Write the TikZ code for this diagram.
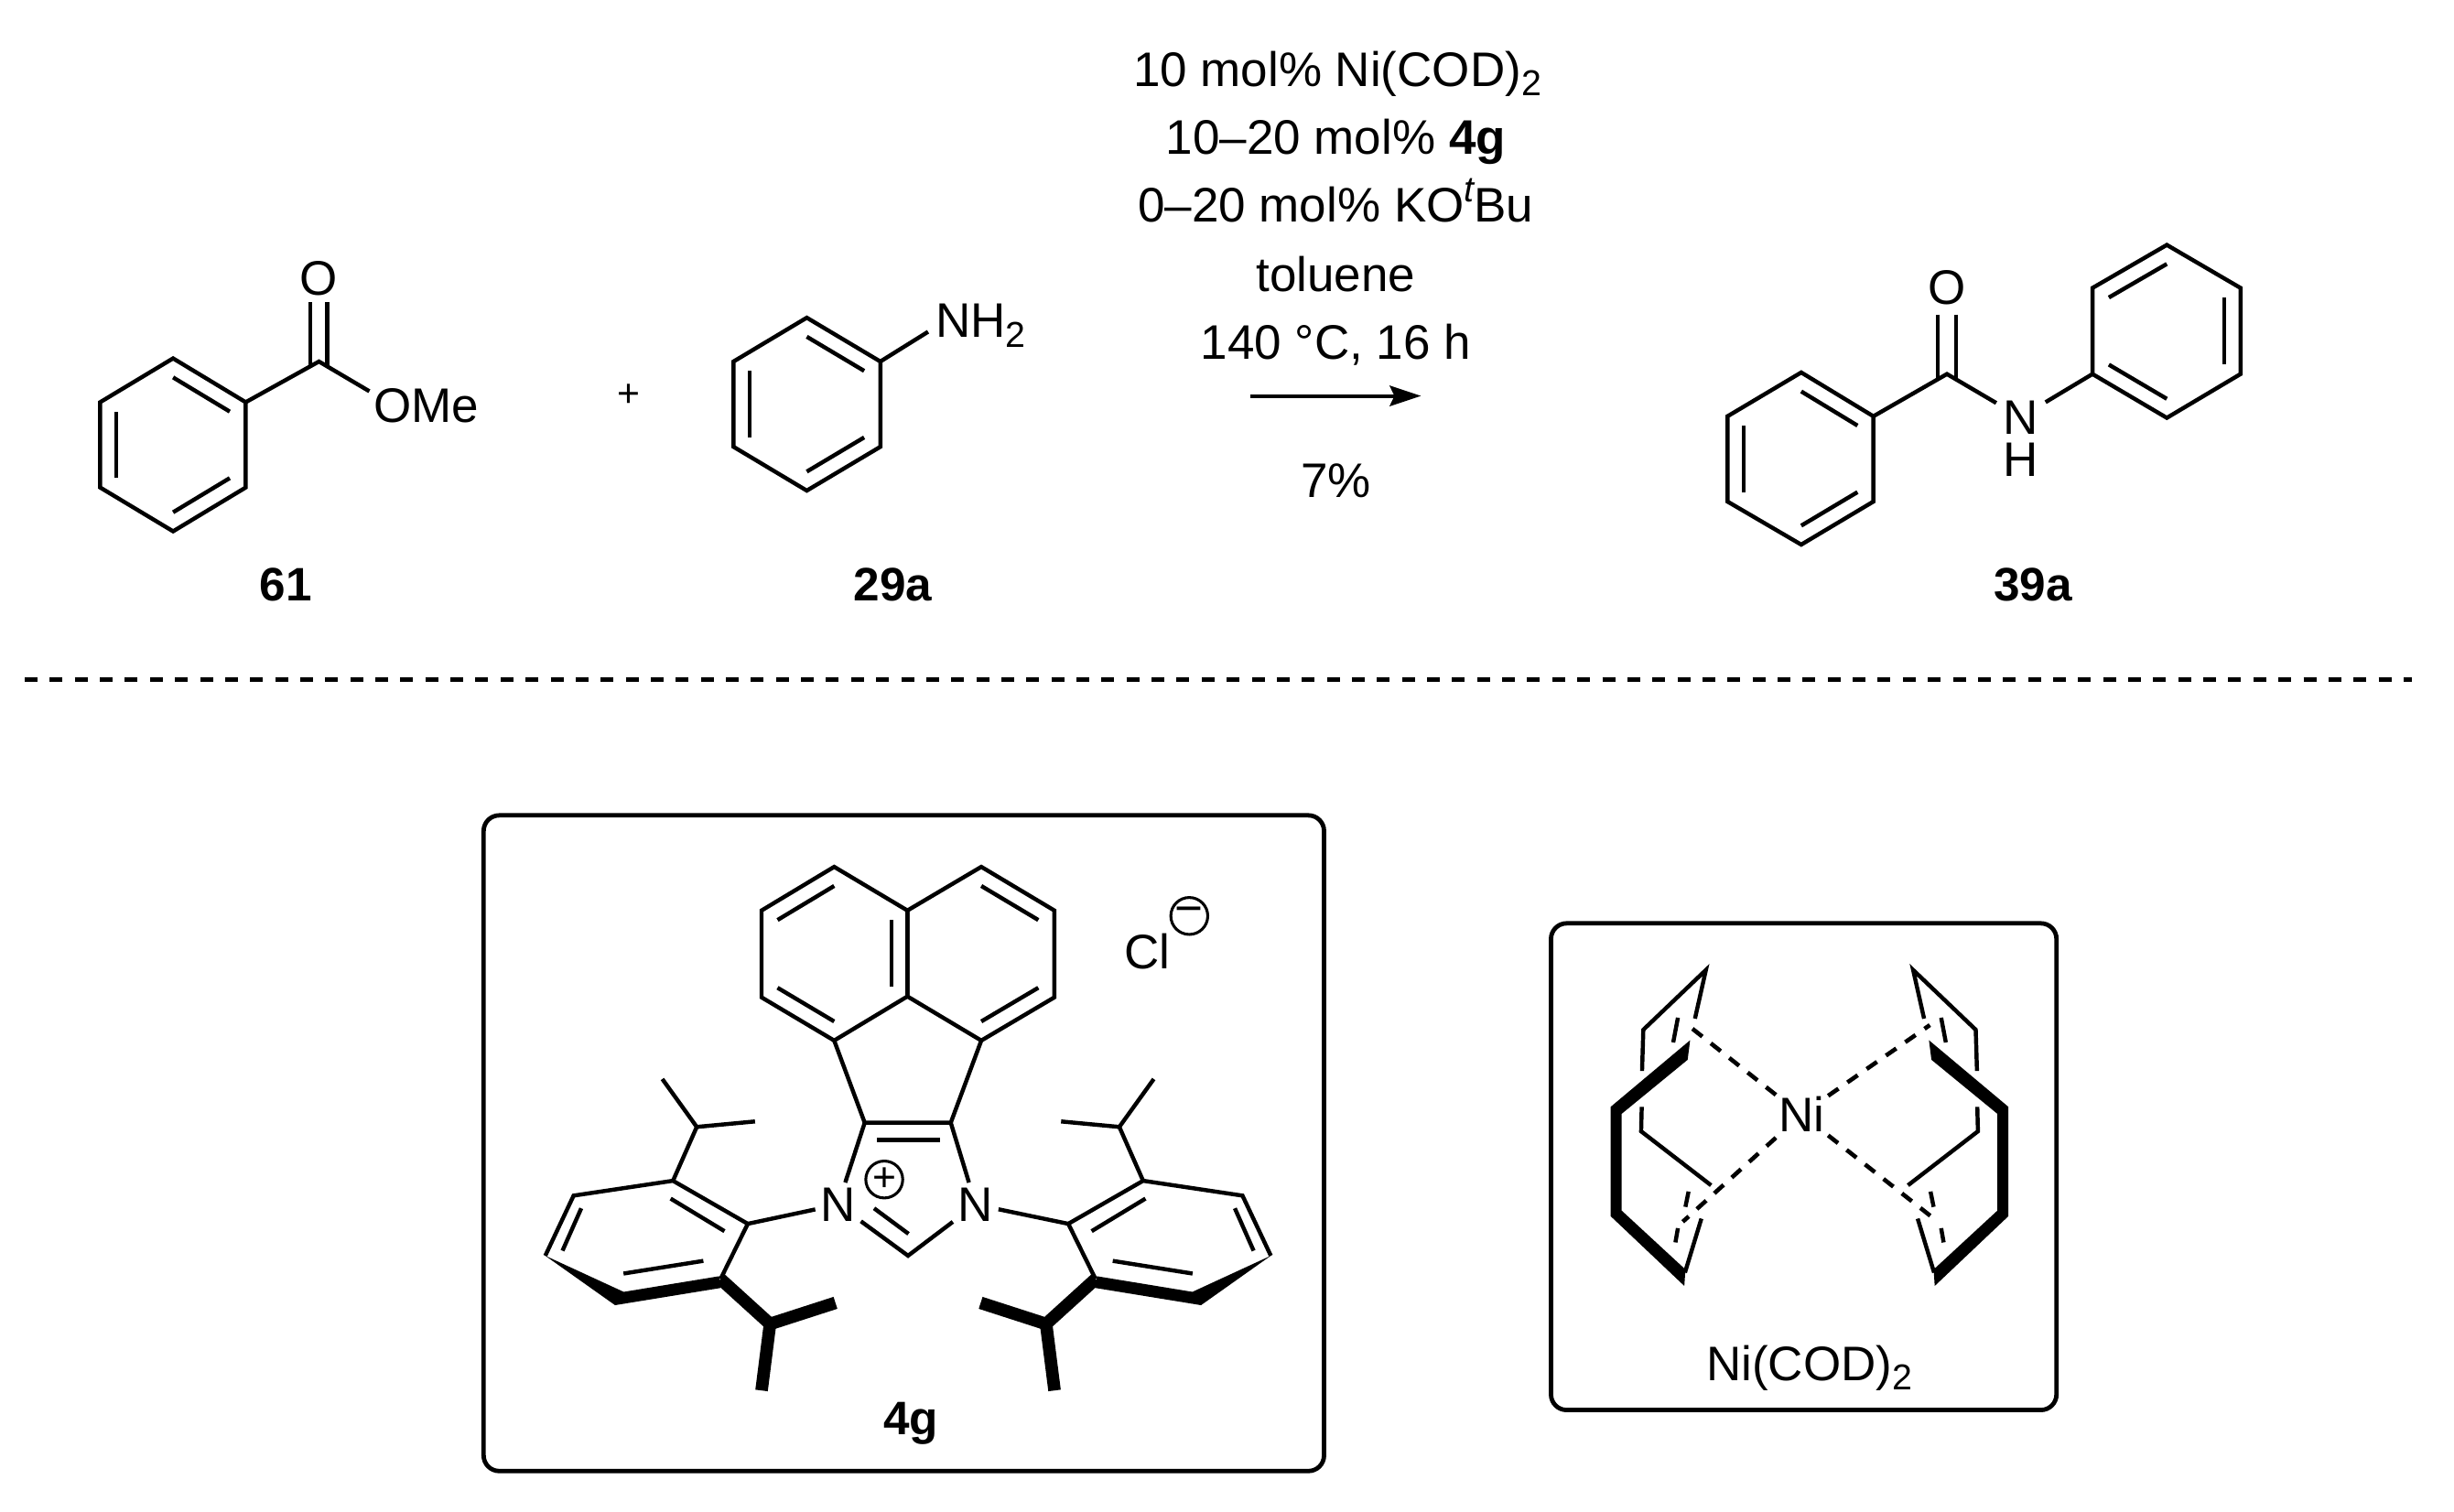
\documentclass[tikz,border=0pt]{standalone}
\usepackage{fontspec}
\setmainfont{Liberation Sans}
\usetikzlibrary{calc,arrows.meta}
\newcommand{\subnum}[1]{\raisebox{-0.2em}{\fontsize{11.5}{12}\selectfont #1}}
\newcommand{\supit}[1]{\raisebox{0.42em}{\fontsize{11.5}{12}\selectfont\itshape #1}}
% six-membered ring: prefix + six vertices; closes itself and defines the centre
\newcommand{\hexring}[7]{%
  \coordinate (#1a) at (#2); \coordinate (#1b) at (#3); \coordinate (#1c) at (#4);
  \coordinate (#1d) at (#5); \coordinate (#1e) at (#6); \coordinate (#1f) at (#7);
  \coordinate (#1o) at ($(#1a)!0.5!(#1d)$);
  \draw[bond] (#1a)--(#1b)--(#1c)--(#1d)--(#1e)--(#1f)--cycle;}
\newcommand{\innerbond}[3]{\draw[bond] ($(#1)!0.78!(#2)$) -- ($(#1)!0.78!(#3)$);}
% half of the NHC: N-aryl with two isopropyl groups
\newcommand{\arylhalf}[1]{%
  \coordinate (#1a1) at (477.8,782);   \coordinate (#1a2) at (430,754.5);
  \coordinate (#1a3) at (366.5,764);   \coordinate (#1a4) at (348.4,802.4);
  \coordinate (#1a6) at (460.4,817.3);
  \coordinate (#1i1) at (445.2,720.1); \coordinate (#1m1) at (423.2,689.5);
  \coordinate (#1m2) at (482.4,716.6);
  \coordinate (#1i2) at (492,846);     \coordinate (#1m3) at (533.8,832.5);
  \coordinate (#1m4) at (486.6,888.5);
  \draw[bond] (#1a6)--(#1a1)--(#1a2)--(#1a3)--(#1a4);
  \draw[bond] (#1m1)--(#1i1)--(#1m2);
  \draw[bond] (#1i1)--(#1a2);
  \draw[bond] (428.5,765.9)--(462.9,786.7);
  \draw[bond] (371.4,772.1)--(359.4,799.2);
  \draw[bond] (398.4,813.8)--(449.4,805.7);
  \fill (#1a4) -- (398.5,825.5) -- (459.5,815.5) -- (460.5,823) -- (393,834) -- cycle;
  \draw[thickbond] (#1a6)--(#1i2)--(#1m3);
  \draw[thickbond] (#1i2)--(#1m4);}
% half of Ni(COD)2 without the dashed bonds to Ni
\newcommand{\codhalf}[1]{%
  \coordinate (#1p1) at (1090,619.8);   \coordinate (#1p2) at (1050,658);
  \coordinate (#1p3) at (1049.2,684.3); \coordinate (#1p4) at (1049,707.3);
  \coordinate (#1p5) at (1048.6,722.9); \coordinate (#1p6) at (1093.3,757.4);
  \coordinate (#1p7) at (1083,650.9);   \coordinate (#1p8) at (1076.6,813.2);
  \coordinate (#1p9) at (1087.1,778.7);
  \draw[bond] (#1p7)--(#1p1)--(#1p2)--(#1p3);
  \draw[bond] (#1p4)--(#1p5)--(#1p6);
  \draw[bond] (#1p8)--(#1p9);
  \draw[bond] (1072.1,650.3)--(1069.1,666.1);
  \draw[bond] (1078.9,761.4)--(1076.9,771.2);
  \draw[bond] (1072.1,784.8)--(1070.5,793.9);
  \fill (1079.9,664.7)--(1029.1,707.3)--(1029.1,777.1)--(1076.2,821.7)--(1076.9,811.2)
       --(1036.2,773.6)--(1036.2,711.7)--(1078.3,677.2)--cycle;}
\tikzset{
  bond/.style={line width=1.3pt,line join=miter,line cap=butt},
  thickbond/.style={line width=4pt,line join=miter,line cap=butt},
  dashbond/.style={line width=1.35pt,dash pattern=on 4pt off 3.5pt},
  boxline/.style={line width=1.4pt,rounded corners=5pt},
  txt/.style={font=\fontsize{15.5}{18}\selectfont,inner sep=0pt,anchor=base},
  txtw/.style={txt,anchor=base west},
  lab/.style={txt,font=\fontsize{15}{18}\selectfont\bfseries},
  atom/.style={font=\fontsize{15.5}{18}\selectfont,inner sep=1.5pt},
  stacked/.style={font=\fontsize{15.5}{13.5}\selectfont,inner sep=0pt,align=center},
  charge/.style={draw,circle,line width=0.9pt,minimum size=11.8pt,inner sep=0pt},
  rxnarrow/.style={line width=1.2pt,-{Stealth[length=10pt,width=6.5pt,inset=1.5pt]}},
  divider/.style={line width=1.45pt,dash pattern=on 4.1pt off 3.9pt},
}
\begin{document}
\begin{tikzpicture}[x=0.5pt,y=-0.5pt]
\useasboundingbox (0,0) rectangle (1568,965.6);
% --- 61
\hexring{r}{110.6,229}{157,257}{157,311.5}{110.6,339.5}{64,311.5}{64,257}
\innerbond{ro}{ra}{rb}\innerbond{ro}{rc}{rd}\innerbond{ro}{re}{rf}
\coordinate (c1) at (203.8,231);
\node[atom] (o1) at (203.5,178) {O};
\coordinate (o1l) at (198.2,193); \coordinate (o1r) at (209.2,193);
\coordinate (c1l) at (198.2,234); \coordinate (c1r) at (209.2,234);
\draw[bond] (o1l)--(c1l); \draw[bond] (o1r)--(c1r);
\coordinate (ome) at (236,250);
\draw[bond] (rb)--(c1)--(ome);
\node[txtw] (omet) at (238.5,270) {OMe};
\node[lab] (l61) at (182.7,384) {61};
% --- plus
\node[txt,font=\fontsize{12.5}{14}\selectfont] (plus) at (402,260) {+};
% --- 29a
\hexring{s}{515.5,203}{562.5,231}{562.5,285.5}{515.5,313.5}{468.7,285.5}{468.7,231}
\innerbond{so}{sa}{sb}\innerbond{so}{sc}{sd}\innerbond{so}{se}{sf}
\coordinate (nh) at (593,212);
\draw[bond] (sb)--(nh);
\node[txtw] (nh2) at (597.5,215.5) {NH\subnum{2}};
\node[lab] (l29) at (570.5,384) {29a};
% --- conditions
\node[txt] (t1) at (854.5,55) {10 mol\% Ni(COD)\subnum{2}};
\node[txt] (t2) at (853.5,98.5) {10–20 mol\% \textbf{4g}};
\node[txt] (t3) at (853.5,142) {0–20 mol\% KO\supit{t}Bu};
\node[txt] (t4) at (853.5,186) {toluene};
\node[txt] (t5) at (853.5,229.5) {140 °C, 16 h};
\node[txt] (t6) at (853.5,318) {7\%};
\coordinate (as) at (799,253); \coordinate (ae) at (908,253);
\draw[rxnarrow] (as)--(ae);
% --- 39a
\hexring{u}{1150.9,238}{1197,266}{1197,320.5}{1150.9,348}{1103.8,320.5}{1103.8,266}
\innerbond{uo}{ua}{ub}\innerbond{uo}{uc}{ud}\innerbond{uo}{ue}{uf}
\coordinate (c2) at (1244,239);
\node[atom] (o2) at (1244,184) {O};
\coordinate (o2l) at (1238.2,201); \coordinate (o2r) at (1249.8,201);
\coordinate (c2l) at (1238.2,242); \coordinate (c2r) at (1249.8,242);
\draw[bond] (o2l)--(c2l); \draw[bond] (o2r)--(c2r);
\node[stacked] (nhs) at (1291,280.5) {N\\H};
\coordinate (nl) at (1275.5,257.5); \coordinate (nr) at (1307,257);
\hexring{v}{1384.5,156.5}{1431.6,184}{1431.6,239}{1384.5,267}{1337,239}{1337,184}
\innerbond{vo}{vf}{va}\innerbond{vo}{vb}{vc}\innerbond{vo}{vd}{ve}
\draw[bond] (ub)--(c2)--(nl);
\draw[bond] (nr)--(ve);
\node[lab] (l39) at (1299,384) {39a};
% --- divider
\coordinate (ds) at (15.8,434); \coordinate (de) at (1541,434);
\draw[divider] (ds)--(de);
% --- box 4g
\draw[boxline] (309,521) rectangle (846,940);
\hexring{la}{533,553.9}{579.8,581.8}{579.8,636.7}{533,664.9}{486.6,637.3}{486.6,581.8}
\hexring{ra}{627,553.9}{673.7,581.8}{673.7,637.3}{627,664.9}{579.8,636.7}{579.8,581.8}
\coordinate (laO) at (533,609.4); \coordinate (raO) at (627,609.4);
\innerbond{laO}{lab}{lac}\innerbond{laO}{lad}{lae}\innerbond{laO}{laf}{laa}
\innerbond{raO}{raa}{rab}\innerbond{raO}{rac}{rad}
\coordinate (c4) at (552.5,717.4); \coordinate (c5) at (607.5,717.4);
\coordinate (c2i) at (580.2,802.4);
\node[atom] (n1) at (535.5,769.7) {N};
\node[atom] (n2) at (623.4,769.7) {N};
\draw[bond] (lad)--(c4)--(c5)--(rad);
\draw[bond] (c4)--(n1) (c5)--(n2);
\draw[bond] (n1)--(c2i)--(n2);
\draw[bond] (560.3,728.5)--(600.4,728.5);
\draw[bond] (558.5,772.1)--(580.5,788.4);
\arylhalf{L}
\draw[bond] (La1)--(n1);
\begin{scope}[shift={(1160.4,0)},xscale=-1]
\arylhalf{R}
\end{scope}
\draw[bond] (Ra1)--(n2);
\node[charge] (pc) at (565,753.7) {\fontsize{13}{14}\selectfont +};
\node[txtw] (cl) at (718,618.9) {Cl};
\node[charge] (mc) at (759.9,585.3) {\fontsize{15.5}{16}\selectfont −};
\node[lab] (l4g) at (582,916.5) {4g};
% --- box Ni(COD)2
\draw[boxline] (991,590) rectangle (1314,901);
\codhalf{A}
\begin{scope}[shift={(2312.4,0)},xscale=-1]
\codhalf{B}
\end{scope}
\node[txt] (ni) at (1151,723) {Ni};
\coordinate (d1) at (1080.3,656.5); \coordinate (d1e) at (1134.7,699.6);
\coordinate (d2) at (1075.2,780.7); \coordinate (d2e) at (1134.7,727);
\coordinate (d3) at (1233.1,655);   \coordinate (d3e) at (1168.1,700.2);
\coordinate (d4) at (1236.2,779.1); \coordinate (d4e) at (1168.1,725.5);
\draw[dashbond] (d1e)--(d1);
\draw[dashbond] (d2e)--(d2);
\draw[dashbond] (d3e)--(d3);
\draw[dashbond] (d4e)--(d4);
\node[txt] (nicod) at (1156,882) {Ni(COD)\subnum{2}};
\end{tikzpicture}
\end{document}
